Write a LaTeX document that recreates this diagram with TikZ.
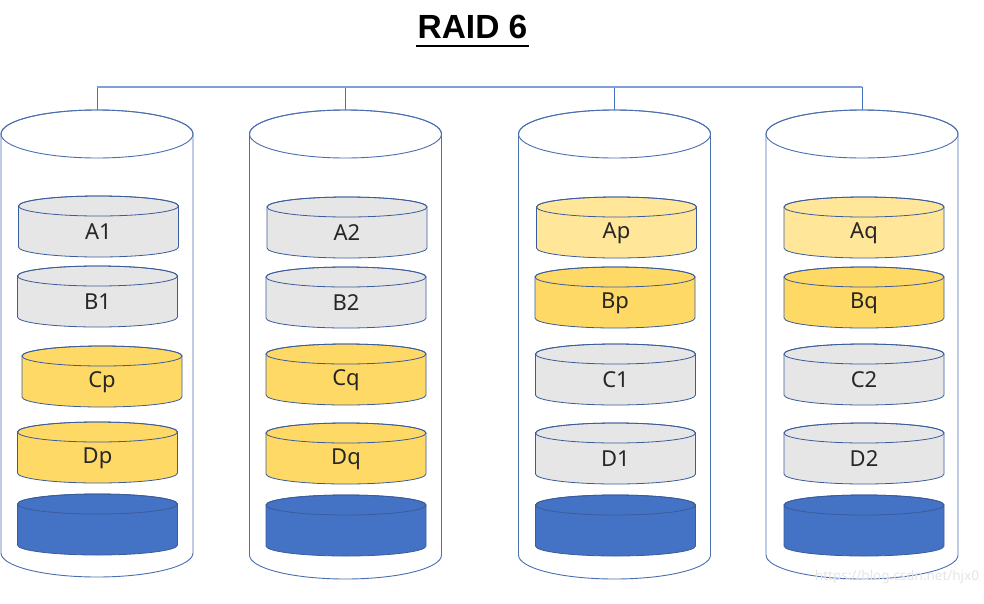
\documentclass[tikz,border=0pt]{standalone}
\usepackage{fontspec}
\setmainfont{Noto Sans}
\newfontfamily\titlefont{Liberation Sans}
\definecolor{diskgray}{HTML}{E7E6E6}
\definecolor{lightyel}{HTML}{FFE699}
\definecolor{yel}{HTML}{FFD966}
\definecolor{officeblue}{HTML}{4472C4}
\definecolor{edgeblue}{HTML}{3A5C9C}
\definecolor{tankblue}{HTML}{4A6FB0}
\definecolor{busblue}{HTML}{7F9FD6}
\definecolor{txt}{HTML}{262626}
\tikzset{
  diskline/.style={draw=edgeblue, line width=0.8pt},
  tankline/.style={draw=tankblue, line width=0.9pt},
  lbl/.style={inner sep=0pt, text=txt, font=\fontsize{22}{24}\selectfont},
  busline/.style={draw=busblue, line width=1.6pt},
  tickline/.style={draw=officeblue, line width=0.8pt},
}
% #1 name, #2 cx, #3 ytop, #4 ybot, #5 fill, #6 label
\newcommand\diskshape[6]{%
  \filldraw[diskline, fill=#5] ({#2-80},{-#3}) -- ({#2-80},{-#4})
    arc[start angle=180,end angle=360,x radius=80,y radius=10]
    -- ({#2+80},{-#3})
    arc[start angle=0,end angle=180,x radius=80,y radius=10] -- cycle;
  \draw[diskline] (#2,-#3) ellipse[x radius=80,y radius=10];
  \node[lbl] (#1) at (#2,{-(#3+#4)/2-5.5}) {#6};
}
% #1 name, #2 cx, #3 ybot
\newcommand\tankshape[3]{%
  \filldraw[tankline, fill=white] ({#2-96},-134) -- ({#2-96},{-#3})
    arc[start angle=180,end angle=360,x radius=96,y radius=24]
    -- ({#2+96},-134)
    arc[start angle=0,end angle=180,x radius=96,y radius=24] -- cycle;
  \draw[tankline] (#2,-134) ellipse[x radius=96,y radius=24];
  \coordinate (#1) at (#2,-110);
}
\begin{document}
\begin{tikzpicture}[x=1pt,y=1pt]
\useasboundingbox (0,0) rectangle (984,-603);
\fill[white] (0,0) rectangle (984,-603);

% title
\node[inner sep=0pt, anchor=base, text=black, font=\titlefont\fontsize{33.5}{36}\selectfont\bfseries] (title) at (472.5,-38) {RAID 6};
\draw[line width=2.6pt] ([xshift=-1pt,yshift=-8pt]title.base west) -- ([xshift=1pt,yshift=-8pt]title.base east);

% tanks
\tankshape{t1}{97}{553}
\tankshape{t2}{345.5}{555}
\tankshape{t3}{614.5}{555}
\tankshape{t4}{862}{555}

% bus
\coordinate (busL) at (97,-87);
\coordinate (busR) at (862,-87);
\draw[tickline] (t1) -- (t1 |- busL);
\draw[tickline] (t2) -- (t2 |- busL);
\draw[tickline] (t3) -- (t3 |- busL);
\draw[tickline] (t4) -- (t4 |- busL);
\draw[busline] (busL) -- (busR);

% disk 1
\diskshape{A1}{98.5}{206}{247}{diskgray}{A1}
\diskshape{B1}{97.5}{276}{317}{diskgray}{B1}
\diskshape{Cp}{102}{356}{397}{yel}{Cp}
\diskshape{Dp}{97.5}{432}{473}{yel}{Dp}
\diskshape{S1}{97.5}{504}{545}{officeblue}{}
% disk 2
\diskshape{A2}{347}{207}{248}{diskgray}{A2}
\diskshape{B2}{346}{277}{318}{diskgray}{B2}
\diskshape{Cq}{346}{354}{395}{yel}{Cq}
\diskshape{Dq}{346}{433}{474}{yel}{Dq}
\diskshape{S2}{346}{505}{546}{officeblue}{}
% disk 3
\diskshape{Ap}{616.5}{207}{248}{lightyel}{Ap}
\diskshape{Bp}{615}{277}{318}{yel}{Bp}
\diskshape{C1}{615.5}{354}{395}{diskgray}{C1}
\diskshape{D1}{615.5}{433}{474}{diskgray}{D1}
\diskshape{S3}{615.5}{505}{546}{officeblue}{}
% disk 4
\diskshape{Aq}{864}{207}{248}{lightyel}{Aq}
\diskshape{Bq}{864}{277}{318}{yel}{Bq}
\diskshape{C2}{864}{354}{395}{diskgray}{C2}
\diskshape{D2}{864}{433}{474}{diskgray}{D2}
\diskshape{S4}{864}{505}{546}{officeblue}{}

% watermark
\node[inner sep=0pt, text=black!10, font=\fontsize{13.5}{15}\selectfont] (wm) at (897,-577) {https://blog.csdn.net/hjx0};
\end{tikzpicture}
\end{document}
